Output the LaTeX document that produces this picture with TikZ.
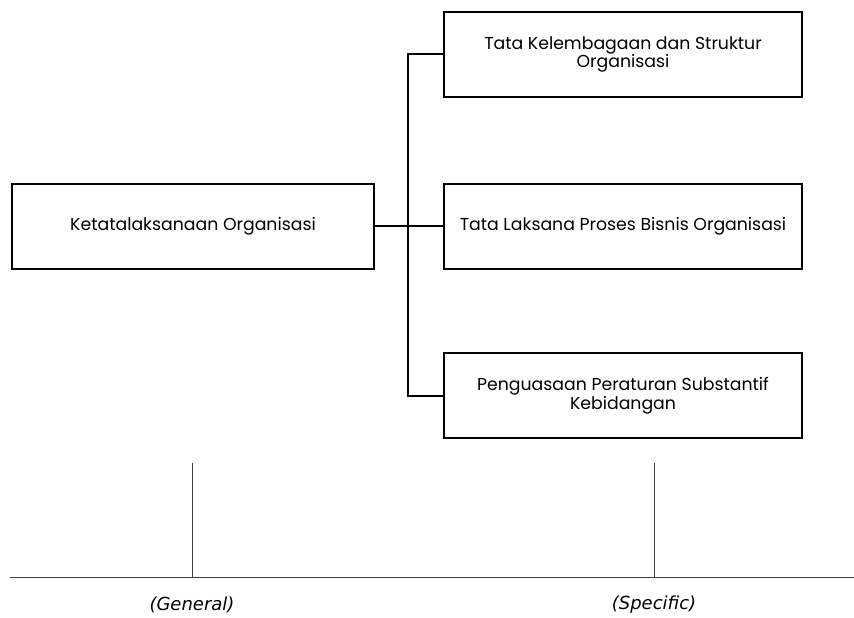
\documentclass[tikz,border=0pt]{standalone}
\usepackage{fontspec}
\setmainfont{Poppins}
\newfontfamily\labelfont{DejaVu Sans}
\begin{document}
\begin{tikzpicture}[x=1pt,y=-1pt,
  box/.style={draw,line width=2pt,minimum width=358pt,minimum height=85pt,
    align=center,font=\fontsize{17.3}{17}\selectfont,inner sep=0pt},
  link/.style={line width=2pt},
  axis/.style={line width=0.9pt,black!75},
  scalelabel/.style={font=\labelfont\itshape\fontsize{18}{20}\selectfont}]
\useasboundingbox (0,0) rectangle (854,618);
\def\busx{408}
% boxes
\node[box,minimum width=362pt] (org) at (193,226) {Ketatalaksanaan Organisasi};
\node[box] (lembaga) at (623,54.5) {Tata Kelembagaan dan Struktur\\Organisasi};
\node[box] (bisnis) at (623,226) {Tata Laksana Proses Bisnis Organisasi};
\node[box] (substantif) at (623,395.5) {Penguasaan Peraturan Substantif\\Kebidangan};
% connectors
\coordinate (busT) at (\busx,54.5);
\coordinate (busM) at (\busx,226);
\coordinate (busB) at (\busx,395.5);
\draw[line width=1.3pt] (org.east) -- (busM);
\draw[link] (lembaga.west) -- (busT) -- (busB) -- (substantif.west);
\draw[link] (busM) -- (bisnis.west);
% scale
\coordinate (axL) at (10,577);
\coordinate (axR) at (854,577);
\draw[axis] (axL) -- (axR);
\coordinate (gen) at (192,577);
\coordinate (spec) at (654,577);
\draw[axis] (gen) -- ++(0,-114);
\draw[axis] (spec) -- ++(0,-114);
\node[scalelabel] (genlabel) at (192,605) {(General)};
\node[scalelabel] (speclabel) at (654,605) {(Specific)};
\end{tikzpicture}
\end{document}
